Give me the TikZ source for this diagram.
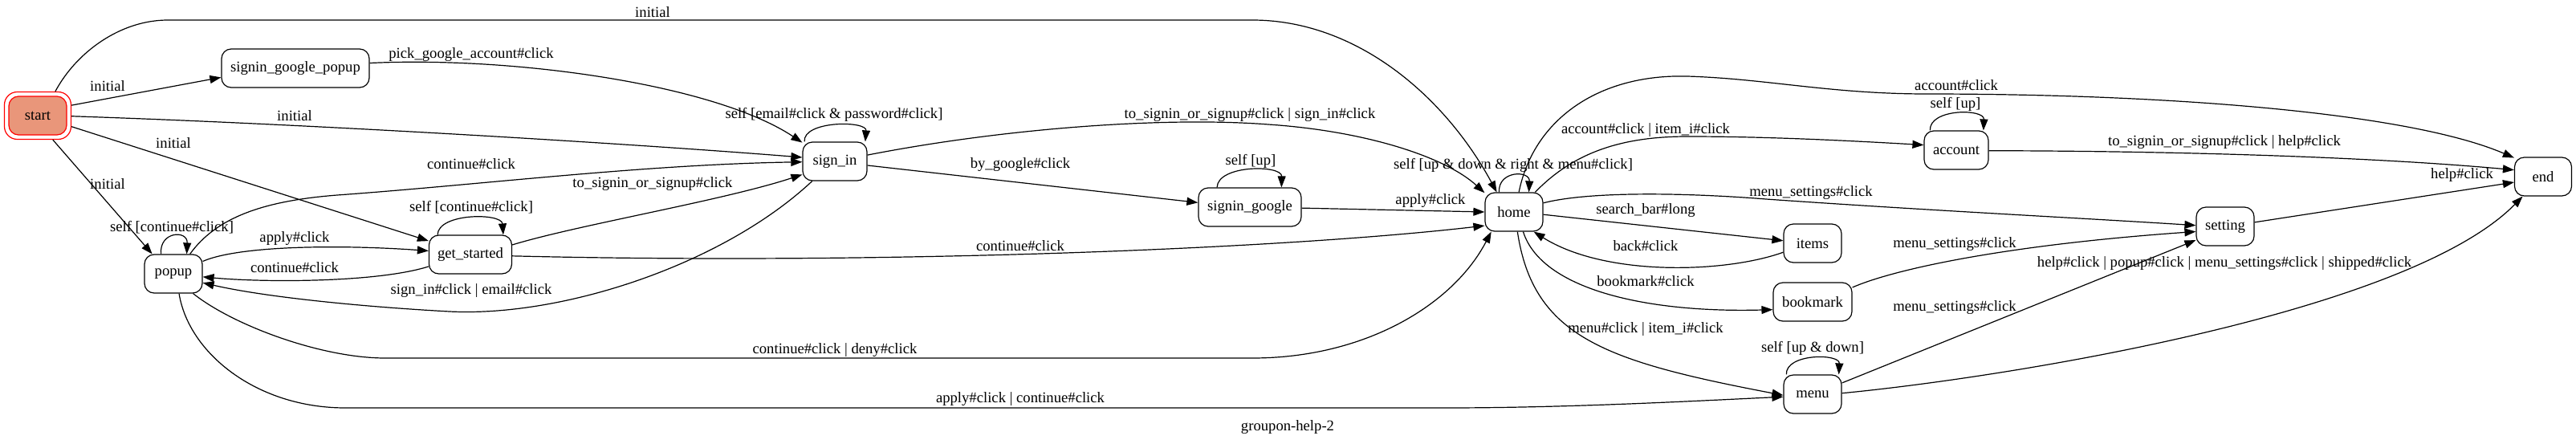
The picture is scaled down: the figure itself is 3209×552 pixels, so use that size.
\documentclass[tikz,border=0pt]{standalone}
\usepackage{fontspec}
\setmainfont{Liberation Serif}
\usetikzlibrary{arrows.meta}
\definecolor{startfill}{RGB}{233,150,122}
\newcommand{\gvfont}{\fontsize{9.33pt}{11pt}\selectfont}
\tikzset{
  st/.style={draw, line width=0.6pt, rounded corners=6pt, minimum height=24pt, inner sep=0pt, font=\gvfont},
  ring/.style={draw=red, line width=0.6pt, rounded corners=8pt, minimum width=41.5pt, minimum height=29.5pt, inner sep=0pt},
  startbox/.style={st, draw=red, fill=startfill},
  lab/.style={inner sep=0pt, font=\gvfont},
  edge/.style={-{Triangle[length=7pt,width=5pt]}, line width=0.6pt},
}
\begin{document}
\begin{tikzpicture}[x=0.5pt,y=-0.5pt]
\useasboundingbox (0,0) rectangle (3209,552);
% nodes
\node[ring] (startring) at (47,144) {};
\node[startbox, minimum width=36pt] (start) at (47,144) {start};
\node[st, minimum width=92pt] (sgp) at (368,85) {signin\_google\_popup};
\node[st, minimum width=36pt] (popup) at (216,341) {popup};
\node[st, minimum width=51.5pt] (gs) at (586,317) {get\_started};
\node[st, minimum width=40pt] (signin) at (1040,201) {sign\_in};
\node[st, minimum width=64pt] (sg) at (1557,258) {signin\_google};
\node[st, minimum width=36pt] (home) at (1886,264) {home};
\node[st, minimum width=40pt] (account) at (2437,187) {account};
\node[st, minimum width=35.5pt] (end) at (3168,220) {end};
\node[st, minimum width=36pt] (setting) at (2772,282) {setting};
\node[st, minimum width=36pt] (items) at (2258,303) {items};
\node[st, minimum width=49pt] (bookmark) at (2258,376) {bookmark};
\node[st, minimum width=36pt] (menu) at (2258,491) {menu};
\node[lab] (title) at (1604,532) {groupon-help-2};

% edges from start
\draw[edge] (startring.54) .. controls (95,65) and (150,25) .. (209,25) -- (1560,25) .. controls (1690,25) and (1800,120) .. (home.131);
\node[lab] (l1) at (813,15) {initial};
\draw[edge] (startring.17) -- (sgp.187);
\node[lab] (l2) at (134,107) {initial};
\draw[edge] (startring.-1) .. controls (400,155) and (800,180) .. (signin.173);
\node[lab] (l3) at (367,144) {initial};
\draw[edge] (startring.-18) -- (gs.162);
\node[lab] (l4) at (216,178) {initial};
\draw[edge] (startring.-58) -- (popup.137);
\node[lab] (l5) at (134,229) {initial};

% signin_google_popup
\draw[edge] (sgp.4) .. controls (640,70) and (890,105) .. (signin.150);
\node[lab] (l6) at (587,68) {pick\_google\_account\#click};

% popup
\draw[edge] (popup.122) .. controls (198,288) and (234,286) .. (popup.56);
\node[lab] (l7) at (214,283) {self [continue\#click]};
\draw[edge] (popup.50) .. controls (270,270) and (330,250) .. (420,243) .. controls (600,230) and (800,205) .. (signin.181);
\node[lab] (l8) at (587,204) {continue\#click};
\draw[edge] (popup.23) .. controls (300,305) and (430,305) .. (gs.175);
\node[lab] (l9) at (367,297) {apply\#click};
\draw[edge] (popup.-45) .. controls (290,405) and (400,446) .. (480,446) -- (1560,446) .. controls (1700,446) and (1810,380) .. (home.221);
\node[lab] (l10) at (1040,436) {continue\#click | deny\#click};
\draw[edge] (popup.-74) .. controls (235,440) and (320,508) .. (430,508) -- (1800,508) .. controls (1950,508) and (2100,500) .. (menu.185);
\node[lab] (l11) at (1271,497) {apply\#click | continue\#click};

% get_started
\draw[edge] (gs.196) .. controls (470,352) and (330,352) .. (popup.354);
\node[lab] (l12) at (367,333) {continue\#click};
\draw[edge] (gs.149) .. controls (546,265) and (625,265) .. (gs.31);
\node[lab] (l13) at (587,258) {self [continue\#click]};
\draw[edge] (gs.13) .. controls (720,280) and (900,250) .. (signin.202);
\node[lab] (l14) at (813,229) {to\_signin\_or\_signup\#click};
\draw[edge] (gs.-2) .. controls (1100,330) and (1600,310) .. (home.205);
\node[lab] (l15) at (1271,306) {continue\#click};

% sign_in
\draw[edge] (signin.221) .. controls (900,330) and (700,395) .. (560,388) .. controls (450,382) and (330,370) .. (popup.343);
\node[lab] (l16) at (587,362) {sign\_in\#click | email\#click};
\draw[edge] (signin.147) .. controls (1000,150) and (1080,150) .. (signin.33);
\node[lab] (l17) at (1039,143) {self [email\#click \& password\#click]};
\draw[edge] (signin.11) .. controls (1250,160) and (1450,145) .. (1580,155) .. controls (1700,163) and (1800,195) .. (home.147);
\node[lab] (l18) at (1557,143) {to\_signin\_or\_signup\#click | sign\_in\#click};
\draw[edge] (signin.-7) -- (sg.175);
\node[lab] (l19) at (1271,205) {by\_google\#click};

% signin_google
\draw[edge] (sg.149) .. controls (1517,205) and (1597,205) .. (sg.32);
\node[lab] (l20) at (1558,201) {self [up]};
\draw[edge] (sg.-1) -- (home.180);
\node[lab] (l21) at (1782,250) {apply\#click};

% home
\draw[edge] (home.127) .. controls (1866,212) and (1906,212) .. (home.53);
\node[lab] (l22) at (1885,206) {self [up \& down \& right \& menu\#click]};
\draw[edge] (home.76) .. controls (1910,150) and (1990,92) .. (2102,95) .. controls (2200,98) and (2280,117) .. (2400,117) .. controls (2700,117) and (3000,140) .. (end.147);
\node[lab] (l23) at (2437,106) {account\#click};
\draw[edge] (home.43) .. controls (1960,190) and (2020,170) .. (2102,170) .. controls (2200,170) and (2300,175) .. (account.171);
\node[lab] (l24) at (2050,162) {account\#click | item\_i\#click};
\draw[edge] (home.17) .. controls (1980,238) and (2100,240) .. (2200,248) .. controls (2400,262) and (2600,272) .. (setting.178);
\node[lab] (l25) at (2256,240) {menu\_settings\#click};
\draw[edge] (home.-5) -- (items.175);
\node[lab] (l26) at (2050,262) {search\_bar\#long};
\draw[edge] (items.197) .. controls (2150,340) and (2000,345) .. (home.-45);
\node[lab] (l27) at (2050,306) {back\#click};
\draw[edge] (home.-65) .. controls (1920,360) and (2050,390) .. (bookmark.191);
\node[lab] (l28) at (2050,350) {bookmark\#click};
\draw[edge] (home.-80) .. controls (1910,420) and (2000,450) .. (menu.182);
\node[lab] (l29) at (2050,410) {menu\#click | item\_i\#click};

% account
\draw[edge] (account.143) .. controls (2403,135) and (2472,135) .. (account.36);
\node[lab] (l30) at (2436,130) {self [up]};
\draw[edge] (account.-1) .. controls (2700,188) and (2950,195) .. (end.167);
\node[lab] (l31) at (2771,177) {to\_signin\_or\_signup\#click | help\#click};

% bookmark, menu, setting
\draw[edge] (bookmark.20) .. controls (2360,335) and (2500,305) .. (setting.190);
\node[lab] (l32) at (2435,304) {menu\_settings\#click};
\draw[edge] (menu.143) .. controls (2224,440) and (2292,440) .. (menu.37);
\node[lab] (l33) at (2258,434) {self [up \& down]};
\draw[edge] (menu.21) -- (setting.205);
\node[lab] (l34) at (2435,383) {menu\_settings\#click};
\draw[edge] (menu.2) .. controls (2500,470) and (3000,390) .. (end.224);
\node[lab] (l35) at (2771,328) {help\#click | popup\#click | menu\_settings\#click | shipped\#click};
\draw[edge] (setting.8) -- (end.191);
\node[lab] (l36) at (3067,218) {help\#click};
\end{tikzpicture}
\end{document}
